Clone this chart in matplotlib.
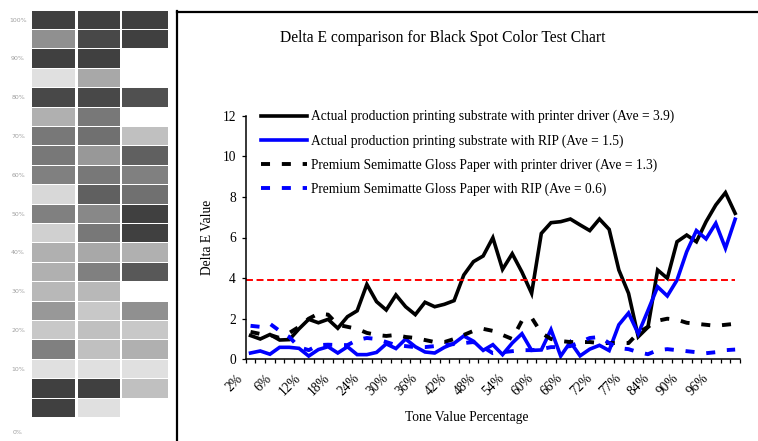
import numpy as np
import matplotlib
matplotlib.use('Agg')
import matplotlib.pyplot as plt
from matplotlib.lines import Line2D
from matplotlib.transforms import ScaledTranslation

plt.rcParams['font.family'] = ['Liberation Serif', 'DejaVu Serif']
plt.rcParams['lines.scale_dashes'] = False

# ---------------- data ----------------
categories = ['2%', '3%', '4%', '6%', '8%', '10%', '12%', '14%', '16%', '18%',
              '20%', '22%', '24%', '26%', '28%', '30%', '32%', '34%', '36%', '38%',
              '40%', '42%', '44%', '46%', '48%', '50%', '52%', '54%', '56%', '58%',
              '60%', '62%', '64%', '66%', '68%', '70%', '72%', '74%', '76%', '77%',
              '80%', '82%', '84%', '86%', '88%', '90%', '92%', '94%', '96%', '98%',
              '100%']

actual_driver = [1.17, 1.00, 1.22, 0.95, 0.97, 1.50, 1.97, 1.80, 1.97, 1.53,
                 2.10, 2.39, 3.69, 2.84, 2.43, 3.17, 2.59, 2.20, 2.81, 2.59,
                 2.71, 2.89, 4.15, 4.81, 5.09, 5.99, 4.43, 5.20, 4.30, 3.25,
                 6.20, 6.73, 6.78, 6.91, 6.62, 6.34, 6.91, 6.40, 4.40, 3.25,
                 1.11, 1.58, 4.40, 3.99, 5.79, 6.12, 5.79, 6.78, 7.60, 8.21,
                 7.19]

actual_rip = [0.31, 0.41, 0.25, 0.59, 0.59, 0.54, 0.16, 0.48, 0.62, 0.31,
              0.62, 0.23, 0.23, 0.34, 0.76, 0.53, 1.00, 0.62, 0.36, 0.31,
              0.59, 0.79, 1.15, 0.89, 0.44, 0.72, 0.23, 0.80, 1.26, 0.44,
              0.46, 1.46, 0.16, 0.85, 0.17, 0.50, 0.69, 0.43, 1.70, 2.28,
              1.26, 2.40, 3.57, 3.12, 3.90, 5.30, 6.34, 5.93, 6.70, 5.47,
              6.90]

premium_driver = [1.35, 1.25, 1.20, 1.05, 1.30, 1.60, 2.00, 2.25, 2.20, 1.70,
                  1.60, 1.50, 1.30, 1.20, 1.15, 1.20, 1.10, 1.05, 0.95, 0.85,
                  0.85, 1.00, 1.20, 1.40, 1.50, 1.40, 1.20, 1.00, 1.90, 2.05,
                  1.30, 1.00, 0.90, 0.85, 0.85, 0.85, 0.80, 0.80, 0.80, 0.80,
                  1.30, 1.60, 1.90, 2.00, 1.95, 1.80, 1.75, 1.70, 1.65, 1.70,
                  1.75]

premium_rip = [1.65, 1.60, 1.75, 1.40, 1.10, 0.60, 0.45, 0.70, 0.72, 0.70,
               0.70, 0.95, 1.05, 1.00, 0.85, 0.70, 0.65, 0.60, 0.60, 0.65,
               0.70, 0.75, 0.80, 0.85, 0.60, 0.30, 0.35, 0.40, 0.45, 0.45,
               0.50, 0.60, 0.60, 0.65, 0.85, 1.05, 1.10, 0.80, 0.55, 0.50,
               0.35, 0.25, 0.45, 0.50, 0.45, 0.40, 0.35, 0.30, 0.35, 0.45,
               0.48]

series_labels = ['Actual production printing substrate with printer driver (Ave = 3.9)',
                 'Actual production printing substrate with RIP (Ave = 1.5)',
                 'Premium Semimatte Gloss Paper with printer driver (Ave = 1.3)',
                 'Premium Semimatte Gloss Paper with RIP (Ave = 0.6)']
average_line = 3.9

title = 'Delta E comparison for Black Spot Color Test Chart'
xlabel = 'Tone Value Percentage'
ylabel = 'Delta E Value'

# left swatch strip (gray levels, 0-255), 21 rows x 3 columns
swatch_col1 = [64, 144, 64, 224, 72, 176, 120, 120, 128, 216, 128, 208, 176, 176, 184, 152, 200, 128, 224, 64, 64]
swatch_col2 = [64, 72, 64, 168, 72, 120, 112, 152, 120, 96, 136, 120, 168, 128, 184, 200, 192, 192, 224, 64, 224]
swatch_col3 = [64, 64, 255, 255, 80, 255, 192, 96, 128, 112, 64, 64, 176, 88, 255, 144, 200, 176, 224, 192, 255]
swatch_labels = ['100%', '90%', '80%', '70%', '60%', '50%', '40%', '30%', '20%', '10%', '0%']

# ---------------- figure ----------------
W, H = 758, 441
fig = plt.figure(figsize=(W / 100, H / 100), dpi=100)
fig.patch.set_facecolor('white')

# left panel
axL = fig.add_axes([0, 0, 176 / W, 1])
axL.set_xlim(0, 176)
axL.set_ylim(H, 0)
axL.axis('off')
row_top, row_h = 10.5, 19.4
rows = np.arange(len(swatch_col1))
col_specs = [(32, 75, swatch_col1), (78, 120, swatch_col2), (122, 168, swatch_col3)]
for x0, x1, vals in col_specs:
    cols = [(v / 255, v / 255, v / 255) for v in vals]
    axL.bar((x0 + x1) / 2, row_h - 0.9, width=x1 - x0, bottom=row_top + rows * row_h,
            color=cols, align='center', linewidth=0)
for k, lab in enumerate(swatch_labels):
    yy = row_top + (2 * k + 0.5) * row_h if k < 10 else 432
    axL.text(18, yy, lab, ha='center', va='center', fontsize=4.5, color='#a0a0a0',
             family='DejaVu Sans')

# chart box lines
fig.add_artist(Line2D([176.5 / W, 1], [1 - 11.5 / H, 1 - 11.5 / H], transform=fig.transFigure,
                      color='black', lw=1.6))
fig.add_artist(Line2D([177 / W, 177 / W], [0, 1 - 11 / H], transform=fig.transFigure,
                      color='black', lw=1.6))

# main axes
ax = fig.add_axes([245.7 / W, 1 - 359.3 / H, 494.3 / W, 243.6 / H])
x = np.arange(len(categories))
lw = 2.6
ax.plot(x, actual_driver, color='black', lw=lw, solid_joinstyle='miter', label=series_labels[0])
ax.plot(x, actual_rip, color='#0000FF', lw=lw, solid_joinstyle='miter', label=series_labels[1])
ax.plot(x, premium_driver, color='black', lw=2.8, dashes=(6.5, 8.5), dash_capstyle='butt',
        label=series_labels[2])
ax.plot(x, premium_rip, color='#0000FF', lw=2.8, dashes=(6.5, 8.5), dash_capstyle='butt',
        label=series_labels[3])
ax.axhline(average_line, xmin=0, xmax=0.99, color='#FF0000', lw=1.4, dashes=(5.0, 2.6))

ax.set_xlim(-0.5, len(categories) - 0.5)
ax.set_ylim(0, 12)
ax.set_yticks(np.arange(0, 13, 2))
ax.tick_params(axis='y', direction='out', length=3, width=0.9, pad=4, labelsize=9.75)
major = np.arange(0, len(categories), 3)
ax.set_xticks(major)
ax.set_xticklabels([categories[i] for i in major], rotation=45, ha='right', va='top',
                   fontsize=9.75)
ax.set_xticks(np.arange(-0.5, len(categories), 1), minor=True)
ax.tick_params(axis='x', which='major', length=0, pad=9)
ax.tick_params(axis='x', which='minor', direction='out', length=3, width=0.9)
off = ScaledTranslation(-5 / 100, 0, fig.dpi_scale_trans)
for lbl in ax.get_xticklabels():
    lbl.set_transform(lbl.get_transform() + off)
for s in ['top', 'right']:
    ax.spines[s].set_visible(False)
for s in ['left', 'bottom']:
    ax.spines[s].set_linewidth(1.1)
ax.set_facecolor('none')

leg = ax.legend(loc='upper left', bbox_to_anchor=(261 / W, 1 - 110 / H),
                bbox_transform=fig.transFigure, frameon=False, fontsize=9.75,
                borderpad=0, borderaxespad=0, handlelength=3.4, handletextpad=0.3,
                labelspacing=0.78)

fig.text(442.5 / W, 1 - 38 / H, title, ha='center', va='center', fontsize=11.2)
fig.text(207 / W, 1 - 237 / H, ylabel, rotation=90, ha='center', va='center', fontsize=9.75)
fig.text(467 / W, 1 - 417 / H, xlabel, ha='center', va='center', fontsize=9.75)

fig.savefig('out.png', dpi=100)
